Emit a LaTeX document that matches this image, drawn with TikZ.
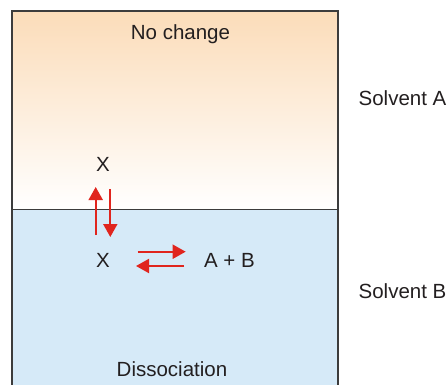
\documentclass[tikz,border=0pt]{standalone}
\usepackage{fontspec}
\setmainfont{Liberation Sans}
\usetikzlibrary{arrows.meta}
\definecolor{topor}{RGB}{251,220,185}
\definecolor{botbl}{RGB}{214,234,248}
\definecolor{redarr}{RGB}{224,37,30}
\definecolor{txt}{RGB}{35,31,32}
\definecolor{frame}{RGB}{60,60,60}
\tikzset{
  lbl/.style={anchor=base, inner sep=0pt, font=\fontsize{20.5}{24}\selectfont, text=txt},
  rarrow/.style={draw=redarr, line width=2pt, -{Triangle[length=13pt,width=14pt]}},
  framestyle/.style={draw=frame, line width=1.8pt},
}
\begin{document}
\begin{tikzpicture}[x=1pt,y=-1pt]
\useasboundingbox (0,0) rectangle (448,384);
\clip (0,0) rectangle (448,384);
\shade[top color=topor, bottom color=white] (12,11) rectangle (338,209.5);
\fill[botbl] (12,209.5) rectangle (338,390);
\draw[framestyle] (12,390) -- (12,11) -- (338,11) -- (338,390);
\draw[framestyle] (12,209.5) -- (338,209.5);
\node[lbl] (nochange) at (180.5,39) {No change};
\node[lbl] (solA) at (402.5,105) {Solvent A};
\node[lbl] (solB) at (402.5,298) {Solvent B};
\node[lbl] (xtop) at (103,171) {X};
\node[lbl] (xbot) at (103,267) {X};
\node[lbl] (ab) at (229.5,267) {A + B};
\node[lbl] (dis) at (172,376) {Dissociation};
\coordinate (upS) at (95.7,235);
\coordinate (upE) at (95.7,187);
\coordinate (dnS) at (110.3,189);
\coordinate (dnE) at (110.3,237);
\coordinate (rtS) at (137.5,251.7);
\coordinate (rtE) at (185.7,251.7);
\coordinate (ltS) at (184,266);
\coordinate (ltE) at (136,266);
\draw[rarrow] (upS) -- (upE);
\draw[rarrow] (dnS) -- (dnE);
\draw[rarrow] (rtS) -- (rtE);
\draw[rarrow] (ltS) -- (ltE);
\end{tikzpicture}
\end{document}
